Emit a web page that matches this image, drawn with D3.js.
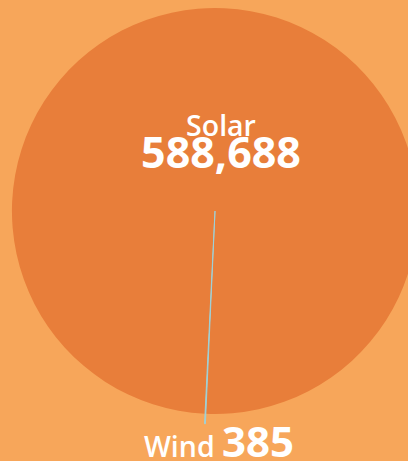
<!DOCTYPE html>
<html>
<head>
<meta charset="utf-8">
<script src="https://cdn.jsdelivr.net/npm/d3@7"></script>
<style>
  html, body { margin: 0; padding: 0; background: #F7A65A; }
  svg { display: block; }
</style>
</head>
<body>
<div id="chart"></div>
<script>
const sources = ["Solar", "Wind"];
const amounts = [588688, 385];
const colors = ["#E87E3A", "#9CD3DB"];

const width = 408, height = 461;
const cx = 215, cy = 211, radius = 203;

const svg = d3.select("#chart")
  .append("svg")
  .attr("width", width)
  .attr("height", height);

svg.append("rect")
  .attr("width", width)
  .attr("height", height)
  .attr("fill", "#F7A65A");

const data = sources.map((s, i) => ({ name: s, value: amounts[i], color: colors[i] }));

// rotate so the tiny wind slice lands just past the bottom
let start = (182.82 - 360) * Math.PI / 180;
let pie = d3.pie()
  .value(d => d.value)
  .sort(null)
  .startAngle(start)
  .endAngle(start + 2 * Math.PI);

let arcs = pie(data);

let g = svg.append("g")
  .attr("transform", `translate(${cx},${cy})`);

g.selectAll("path")
  .data(arcs)
  .join("path")
  .attr("fill", d => d.data.color)
  .attr("stroke", d => d.data.name === "Wind" ? d.data.color : "none")
  .attr("stroke-width", 0.9)
  .attr("d", d => d3.arc()
    .innerRadius(0)
    .outerRadius(d.data.name === "Wind" ? radius + 10 : radius)(d));

// labels
svg.append("text")
  .text(sources[0])
  .attr("x", 221)
  .attr("y", 136)
  .attr("text-anchor", "middle")
  .attr("font-family", "Open Sans")
  .attr("font-weight", 600)
  .attr("font-size", 28.5)
  .attr("fill", "#fff");

svg.append("text")
  .text(d3.format(",")(amounts[0]))
  .attr("x", 221)
  .attr("y", 168)
  .attr("text-anchor", "middle")
  .attr("font-family", "Open Sans")
  .attr("font-weight", "bold")
  .attr("font-size", 43)
  .attr("fill", "#fff");

let wind = svg.append("text")
  .attr("x", 219)
  .attr("y", 457)
  .attr("text-anchor", "middle")
  .attr("font-family", "Open Sans")
  .attr("fill", "#fff");

wind.append("tspan")
  .text(sources[1] + " ")
  .attr("font-weight", 600)
  .attr("font-size", 28.5);

wind.append("tspan")
  .text(d3.format(",")(amounts[1]))
  .attr("font-weight", "bold")
  .attr("font-size", 42);
</script>
</body>
</html>
